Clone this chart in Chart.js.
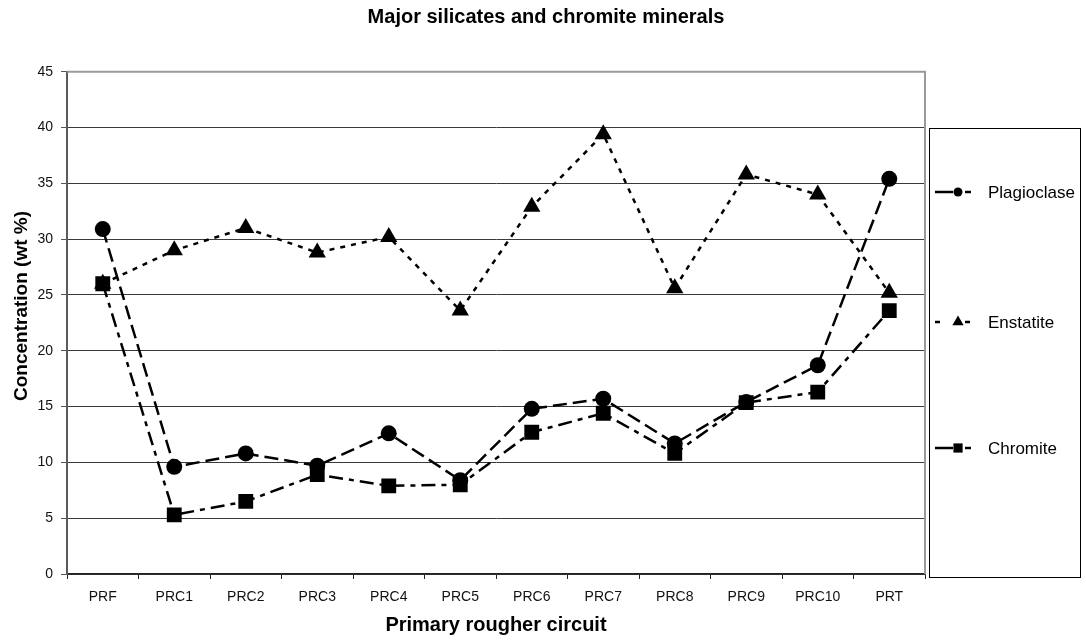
<!DOCTYPE html>
<html>
<head>
<meta charset="utf-8">
<title>Major silicates and chromite minerals</title>
<script src="https://cdn.jsdelivr.net/npm/chart.js@4.4.1/dist/chart.umd.min.js"></script>
<style>
  html, body { margin: 0; padding: 0; background: #ffffff; }
  #wrap { width: 1086px; height: 641px; position: relative; }
</style>
</head>
<body>
<div id="wrap"><canvas id="chart" width="1086" height="641"></canvas></div>
<script>
// Sampling points along the primary rougher circuit
const categories = ['PRF', 'PRC1', 'PRC2', 'PRC3', 'PRC4', 'PRC5', 'PRC6', 'PRC7', 'PRC8', 'PRC9', 'PRC10', 'PRT'];

// Mineral concentrations, wt %
const plagioclase = [30.9, 9.6, 10.8, 9.7, 12.6, 8.4, 14.8, 15.7, 11.7, 15.4, 18.7, 35.4];
const enstatite   = [26.0, 29.0, 31.0, 28.8, 30.2, 23.6, 32.9, 39.4, 25.6, 35.8, 34.0, 25.2];
const chromite    = [26.0, 5.3, 6.5, 8.9, 7.9, 8.0, 12.7, 14.4, 10.8, 15.35, 16.3, 23.6];

// Value axis range
const yMin = 0;
const yMax = 45;
const yStep = 5;

const FONT = "'Liberation Sans', Arial, Helvetica, sans-serif";

// Chart heading, centred over the whole figure
const heading = {
  id: 'heading',
  afterDraw(chart) {
    const { ctx } = chart;
    ctx.save();
    ctx.font = 'bold 20px ' + FONT;
    ctx.fillStyle = '#000';
    ctx.textAlign = 'center';
    ctx.textBaseline = 'alphabetic';
    ctx.fillText('Major silicates and chromite minerals', 546, 23);
    ctx.restore();
  }
};

// Grey frame on the top and right edges of the plot area
const frame = {
  id: 'frame',
  beforeDatasetsDraw(chart) {
    const { ctx, chartArea: a } = chart;
    ctx.save();
    ctx.strokeStyle = '#9a9a9a';
    ctx.lineWidth = 2;
    ctx.beginPath();
    ctx.moveTo(a.left, a.top);
    ctx.lineTo(a.right, a.top);
    ctx.lineTo(a.right, a.bottom);
    ctx.stroke();
    ctx.restore();
  }
};

// Vertical axis title
const yTitle = {
  id: 'yTitle',
  afterDraw(chart) {
    const { ctx } = chart;
    ctx.save();
    ctx.translate(26.5, 306);
    ctx.rotate(-Math.PI / 2);
    ctx.font = 'bold 19px ' + FONT;
    ctx.fillStyle = '#000';
    ctx.textAlign = 'center';
    ctx.textBaseline = 'alphabetic';
    ctx.fillText('Concentration (wt %)', 0, 0);
    ctx.restore();
  }
};

// Boxed legend on the right, one entry per series spread down the box
const boxLegend = {
  id: 'boxLegend',
  afterDraw(chart) {
    const { ctx } = chart;
    const box = { x: 929.5, y: 128.5, w: 151, h: 449 };
    const rows = [192, 322, 448];
    const markerR = { circle: 4.5, rect: 6.5, triangle: 6.5 };
    ctx.save();
    ctx.strokeStyle = '#000';
    ctx.lineWidth = 1;
    ctx.strokeRect(box.x, box.y, box.w, box.h);
    chart.data.datasets.forEach((ds, i) => {
      const y = rows[i];
      ctx.save();
      ctx.strokeStyle = ds.borderColor;
      ctx.lineWidth = ds.borderWidth;
      ctx.setLineDash(ds.legendDash);
      ctx.beginPath();
      ctx.moveTo(935, y);
      ctx.lineTo(971, y);
      ctx.stroke();
      ctx.restore();
      ctx.fillStyle = ds.pointBackgroundColor;
      ctx.strokeStyle = ds.pointBorderColor;
      Chart.helpers.drawPoint(ctx, {
        pointStyle: ds.pointStyle,
        radius: markerR[ds.pointStyle],
        rotation: 0,
        borderWidth: 0
      }, 958, y);
      ctx.fillStyle = '#000';
      ctx.font = '17px ' + FONT;
      ctx.textAlign = 'left';
      ctx.textBaseline = 'middle';
      ctx.fillText(ds.label, 988, y + 1);
    });
    ctx.restore();
  }
};

const series = (label, data, style, radius, dash, legendDash, order) => ({
  label,
  data,
  order,
  borderColor: '#000',
  backgroundColor: '#000',
  borderWidth: 2.5,
  borderDash: dash,
  legendDash,
  pointStyle: style,
  pointRadius: radius,
  pointHoverRadius: radius,
  pointBackgroundColor: '#000',
  pointBorderColor: '#000',
  pointBorderWidth: 0,
  tension: 0,
  fill: false
});

new Chart(document.getElementById('chart'), {
  type: 'line',
  data: {
    labels: categories,
    datasets: [
      series('Plagioclase', plagioclase, 'circle', 8, [14, 6], [18, 12], 1),
      series('Enstatite', enstatite, 'triangle', 10, [5, 6], [5, 25], 2),
      series('Chromite', chromite, 'rect', 10.5, [14, 6, 5, 6], [18, 12], 0)
    ]
  },
  plugins: [heading, frame, yTitle, boxLegend],
  options: {
    responsive: false,
    devicePixelRatio: 1,
    animation: false,
    events: [],
    layout: { padding: { left: 0, right: 161, top: 71.7, bottom: 0 } },
    plugins: {
      legend: { display: false },
      tooltip: { enabled: false },
      title: { display: false }
    },
    scales: {
      x: {
        type: 'category',
        offset: true,
        afterFit(scale) { scale.height = 67; },
        grid: {
          offset: true,
          drawOnChartArea: false,
          drawTicks: true,
          tickLength: 5,
          tickColor: '#222',
          tickWidth: 1
        },
        border: { display: true, color: '#222', width: 1.5 },
        ticks: {
          color: '#111',
          font: { family: FONT, size: 14 },
          padding: 10,
          maxRotation: 0,
          autoSkip: false
        },
        title: {
          display: true,
          text: 'Primary rougher circuit',
          color: '#000',
          font: { family: FONT, size: 20, weight: 'bold' },
          padding: { top: 0, bottom: 4 }
        }
      },
      y: {
        min: yMin,
        max: yMax,
        afterFit(scale) { scale.width = 67; },
        grid: {
          color: '#3a3a3a',
          lineWidth: 1,
          drawTicks: true,
          tickLength: 6,
          tickColor: '#555',
          tickWidth: 1
        },
        border: { display: true, color: '#5a5a5a', width: 2 },
        ticks: {
          stepSize: yStep,
          color: '#111',
          font: { family: FONT, size: 14 },
          padding: 8
        },
        title: { display: false }
      }
    }
  }
});
</script>
</body>
</html>
